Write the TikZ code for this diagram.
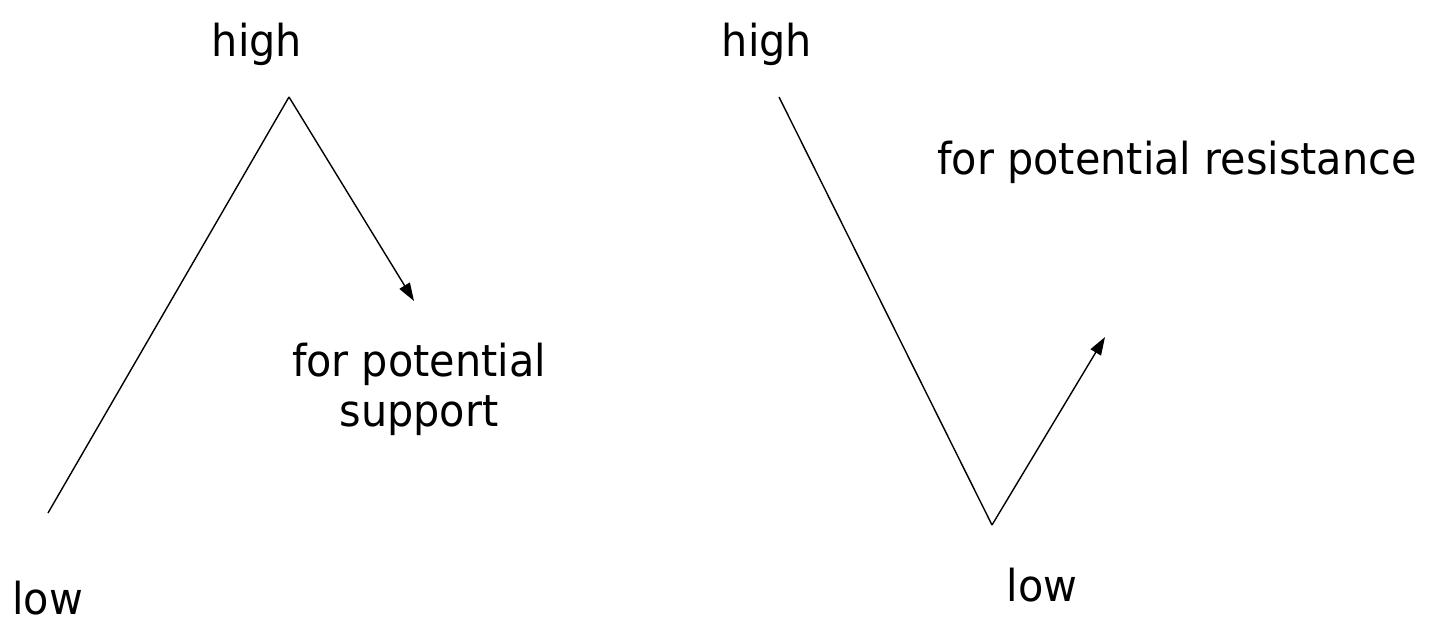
\documentclass[tikz,border=0pt]{standalone}
\usepackage{fontspec}
\setmainfont{DejaVu Sans}[FakeStretch=0.94]
\usetikzlibrary{arrows.meta}
\begin{document}
\begin{tikzpicture}[x=1pt,y=-1pt,
  lbl/.style={inner sep=0pt,font=\fontsize{44}{50}\selectfont},
  ln/.style={line width=1.4pt,black},
  arr/.style={ln,-{Triangle[length=18pt,width=12pt]}}]
\useasboundingbox (0,0) rectangle (1435,620);
% left figure
\coordinate (lLow) at (48,513);
\coordinate (lHigh) at (289,97);
\coordinate (lEnd) at (414,301);
\draw[ln] (lLow) -- (lHigh);
\draw[arr] (lHigh) -- (lEnd);
\node[lbl] (hL) at (257,44) {high};
\node[lbl,anchor=west] (loL) at (12,598) {low};
\node[lbl,align=center] (sup) at (419,389) {for potential\\support};
% right figure
\coordinate (rHigh) at (779,97);
\coordinate (rLow) at (992,525);
\coordinate (rEnd) at (1105,337);
\draw[ln] (rHigh) -- (rLow);
\draw[arr] (rLow) -- (rEnd);
\node[lbl] (hR) at (767,44) {high};
\node[lbl] (loR) at (1042,585) {low};
\node[lbl] (res) at (1177,162) {for potential resistance};
\end{tikzpicture}
\end{document}
